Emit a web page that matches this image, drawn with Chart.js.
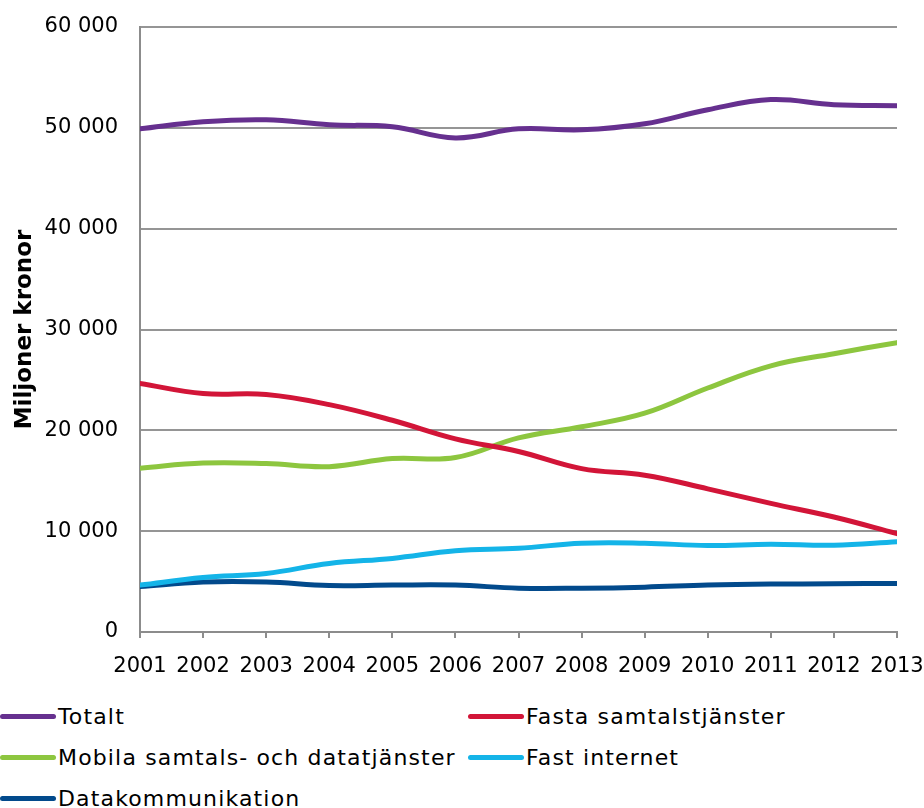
<!DOCTYPE html>
<html>
<head>
<meta charset="utf-8">
<script src="https://cdn.jsdelivr.net/npm/chart.js@4"></script>
<style>
  body { margin: 0; background: #fff; font-family: "DejaVu Sans", Verdana, sans-serif; }
  #wrap { position: absolute; left: 0; top: 0; width: 924px; height: 690px; }
  #legend { position: absolute; left: 0; top: 696px; width: 924px; }
  .item { position: absolute; height: 41px; display: flex; align-items: center; font-size: 22px; letter-spacing: 1.15px; color: #000; white-space: nowrap; }
  .item .mark { display: inline-block; width: 56px; height: 5px; border-radius: 3px; margin-right: 2px; }
</style>
</head>
<body>
<div id="wrap"><canvas id="chart" width="924" height="690"></canvas></div>
<div id="legend"></div>
<script>
// years on the x axis
var years = [2001, 2002, 2003, 2004, 2005, 2006, 2007, 2008, 2009, 2010, 2011, 2012, 2013];

// miljoner kronor
var totalt      = [49900, 50600, 50800, 50300, 50100, 49000, 49900, 49800, 50400, 51800, 52800, 52300, 52200];
var fasta       = [24650, 23650, 23550, 22550, 21000, 19150, 17900, 16200, 15550, 14200, 12750, 11400, 9750];
var mobila      = [16250, 16750, 16700, 16400, 17200, 17300, 19250, 20350, 21700, 24200, 26400, 27600, 28700];
var fastInternet = [4650, 5400, 5800, 6800, 7300, 8050, 8300, 8800, 8800, 8580, 8700, 8600, 8950];
var datakomm    = [4500, 4950, 4950, 4600, 4650, 4650, 4350, 4350, 4450, 4650, 4750, 4780, 4820];

var seriesNames  = ['Totalt', 'Fasta samtalstjänster', 'Mobila samtals- och datatjänster', 'Fast internet', 'Datakommunikation'];
var seriesValues = [totalt, fasta, mobila, fastInternet, datakomm];
var seriesColors = ['#66308F', '#D21538', '#8DC63F', '#14B4E8', '#024A8C'];

var yTicks = [0, 10000, 20000, 30000, 40000, 50000, 60000];

function toPoints(vals) {
    return vals.map(function(v, i){ return { x: years[i], y: v }; });
}

var datasets = seriesNames.map(function(name, i){
    return {
        label: name,
        data: toPoints(seriesValues[i]),
        borderColor: seriesColors[i],
        backgroundColor: seriesColors[i],
        borderWidth: 5,
        pointRadius: 0,
        tension: 0.4,
        borderCapStyle: 'round'
    };
});

var ctx = document.getElementById('chart').getContext('2d');
var chart = new Chart(ctx, {
    type: 'line',
    data: { datasets: datasets },
    options: {
        responsive: false,
        animation: false,
        layout: { padding: { top: 27, right: 27, left: 11, bottom: 0 } },
        plugins: { legend: { display: false }, tooltip: { enabled: false } },
        scales: {
            x: {
                type: 'linear',
                min: 2001,
                max: 2013,
                ticks: {
                    stepSize: 1,
                    color: '#000',
                    padding: 16,
                    maxRotation: 0,
                    font: { family: 'DejaVu Sans', size: 21 },
                    callback: function(v){ return String(v); }
                },
                grid: { drawOnChartArea: false, drawTicks: true, tickLength: 6, color: '#8c8c8c', lineWidth: 2 },
                border: { color: '#8c8c8c', width: 2 },
                afterFit: function(scale){
                    scale.height = 58;
                    scale.paddingLeft = 0;
                    scale.paddingRight = 0;
                }
            },
            y: {
                min: 0,
                max: 60000,
                afterBuildTicks: function(scale){ scale.ticks = yTicks.map(function(v){ return { value: v }; }); },
                ticks: {
                    color: '#000',
                    padding: 22,
                    font: { family: 'DejaVu Sans', size: 21 },
                    callback: function(v){ return String(v).replace(/\B(?=(\d{3})+(?!\d))/g, ' '); }
                },
                grid: { drawTicks: false, color: '#959595', lineWidth: 2 },
                border: { color: '#8c8c8c', width: 2 },
                title: {
                    display: true,
                    text: 'Miljoner kronor',
                    color: '#000',
                    font: { family: 'DejaVu Sans', size: 23, weight: 'bold' },
                    padding: { top: 0, bottom: 0 }
                },
                afterFit: function(scale){
                    scale.width = 129;
                    scale.paddingTop = 0;
                }
            }
        }
    }
});

// legend in two columns under the chart
var legend = document.getElementById('legend');
var colX = [0, 468];
chart.data.datasets.forEach(function(ds, i){
    var item = document.createElement('div');
    item.className = 'item';
    item.style.left = colX[i % 2] + 'px';
    item.style.top = (Math.floor(i / 2) * 41) + 'px';
    var mark = document.createElement('span');
    mark.className = 'mark';
    mark.style.background = ds.borderColor;
    item.appendChild(mark);
    item.appendChild(document.createTextNode(ds.label));
    legend.appendChild(item);
});
</script>
</body>
</html>
